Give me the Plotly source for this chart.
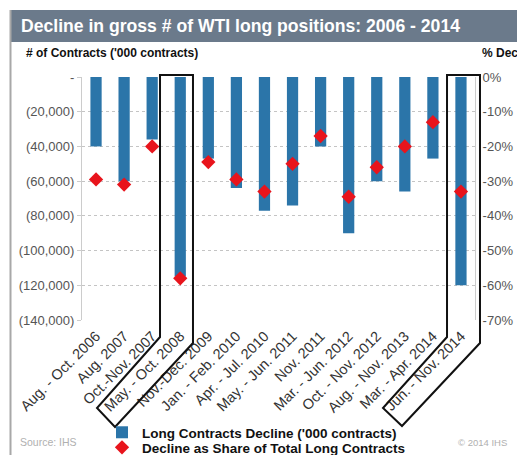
import plotly.graph_objects as go

# Periods of falling WTI long positions
periods = [
    "Aug. - Oct. 2006", "Aug. 2007", "Oct.-Nov. 2007", "May. - Oct. 2008",
    "Nov.-Dec. 2009", "Jan. - Feb. 2010", "Apr. - Jul. 2010", "May. - Jun. 2011",
    "Nov. 2011", "Mar. - Jun. 2012", "Oct. - Nov. 2012", "Aug. - Nov. 2013",
    "Mar. - Apr. 2014", "Jun. - Nov. 2014",
]
# Decline in long contracts ('000 contracts, shown as raw contracts)
long_decline = [-40000, -60000, -36000, -115000, -47000, -64000, -77000,
                -74000, -40000, -90000, -60000, -66000, -47000, -120000]
# Decline as share of total long contracts (%)
share_decline = [-29.5, -31, -20, -58, -24.5, -29.5, -33,
                 -25, -17, -34.5, -26, -20, -13, -33]

left_ticks = [0, -20000, -40000, -60000, -80000, -100000, -120000, -140000]
left_labels = ["-", "(20,000)", "(40,000)", "(60,000)", "(80,000)",
               "(100,000)", "(120,000)", "(140,000)"]
right_ticks = [0, -10, -20, -30, -40, -50, -60, -70]
right_labels = ["0%", "-10%", "-20%", "-30%", "-40%", "-50%", "-60%", "-70%"]

W, H = 517, 455
L, R, T, B = 82, 42, 77, 135
PW, PH = W - L - R, H - T - B


def px(x):
    return (x - L) / PW


def py(y):
    return (H - B - y) / PH


def path(points):
    return "M " + " L ".join(f"{px(a):.4f},{py(b):.4f}" for a, b in points) + " Z"


fig = go.Figure()
fig.add_trace(go.Bar(
    x=periods, y=long_decline, name="<b>Long Contracts Decline ('000 contracts)</b>",
    marker=dict(color="#2b75a9", line=dict(width=0)), yaxis="y", legend="legend",
))
fig.add_trace(go.Scatter(
    x=periods, y=share_decline, name="<b>Decline as Share of Total Long Contracts</b>",
    mode="markers", marker=dict(symbol="diamond", size=11, color="#e8141c"), yaxis="y2",
    legend="legend2",
))

grid = "#c4c4c4"
shapes = [
    # header band
    dict(type="rect", xref="paper", yref="paper", x0=px(10), x1=px(530), y0=py(42), y1=py(10),
         fillcolor="#6b7a8b", line=dict(width=0), layer="below"),
    # left frame edge
    dict(type="line", xref="paper", yref="paper", x0=px(10.5), x1=px(10.5), y0=py(10), y1=py(460),
         line=dict(color="#a8a8a8", width=2)),
    # highlight outlines around the two largest declines
    dict(type="path", xref="paper", yref="paper",
         path=path([(160, 75), (160, 337), (97, 408), (115, 427), (193, 343), (193, 75)]),
         line=dict(color="#111111", width=2)),
    dict(type="path", xref="paper", yref="paper",
         path=path([(447, 75), (447, 337), (383, 408), (402, 426), (480, 343), (480, 75)]),
         line=dict(color="#111111", width=2)),
]

annotations = [
    dict(text="<b>Decline in gross # of WTI long positions: 2006 - 2014</b>",
         xref="paper", yref="paper", x=px(19), y=py(26), xanchor="left", yanchor="middle",
         showarrow=False, font=dict(size=17.6, color="white", family="Arial")),
    dict(text="<b># of Contracts ('000 contracts)</b>",
         xref="paper", yref="paper", x=px(24), y=py(53), xanchor="left", yanchor="middle",
         showarrow=False, font=dict(size=12, color="#111", family="Arial")),
    dict(text="<b>% Dec</b>",
         xref="paper", yref="paper", x=px(480), y=py(53), xanchor="left", yanchor="middle",
         showarrow=False, font=dict(size=12, color="#111", family="Arial")),
    dict(text="Source: IHS", xref="paper", yref="paper", x=px(18), y=py(442),
         xanchor="left", yanchor="middle", showarrow=False,
         font=dict(size=10.5, color="#b0b0b0", family="Arial")),
    dict(text="© 2014 IHS", xref="paper", yref="paper", x=px(509), y=py(442),
         xanchor="right", yanchor="middle", showarrow=False,
         font=dict(size=9.5, color="#b0b0b0", family="Arial")),
]

legend_style = dict(xanchor="left", yanchor="top",
                    font=dict(size=13.5, color="#111", family="Arial"),
                    bgcolor="rgba(0,0,0,0)", itemwidth=30)

fig.update_layout(
    width=W, height=H,
    margin=dict(l=L, r=R, t=T, b=B, autoexpand=False),
    paper_bgcolor="white", plot_bgcolor="white",
    font=dict(family="Arial", color="#333"),
    bargap=0.6,
    showlegend=True,
    legend=dict(x=px(102), y=py(417), **legend_style),
    legend2=dict(x=px(102), y=py(432), **legend_style),
    xaxis=dict(type="category", tickangle=-45, tickfont=dict(size=14.5, color="#333"),
               showgrid=False, showline=False, ticks="", automargin=False,
               ticklabelstandoff=4, range=[-0.5, len(periods) - 0.5]),
    xaxis2=dict(overlaying="x", side="top", anchor="y", range=[-0.5, len(periods) - 0.5],
                tickvals=[i + 0.5 for i in range(len(periods) - 1)], ticks="inside",
                ticklen=4, tickcolor="#bbbbbb", showticklabels=False, showgrid=False,
                showline=False, zeroline=False),
    yaxis=dict(range=[-140000, 0], tickvals=left_ticks, ticktext=left_labels,
               tickfont=dict(size=13, color="#555"), showgrid=True, gridcolor=grid,
               griddash="3px,3px", gridwidth=1, zeroline=False,
               showline=True, linecolor="#cccccc", linewidth=1,
               ticks="outside", ticklen=4, tickcolor="#cccccc", automargin=False),
    yaxis2=dict(range=[-70, 0], tickvals=right_ticks, ticktext=right_labels,
                overlaying="y", side="right", tickfont=dict(size=13, color="#555"),
                showgrid=False, zeroline=False, showline=True, linecolor="#cccccc",
                linewidth=1, ticks="outside", ticklen=4, tickcolor="rgba(0,0,0,0)",
                automargin=False),
    shapes=shapes,
    annotations=annotations,
)

fig.write_html("out.html")
